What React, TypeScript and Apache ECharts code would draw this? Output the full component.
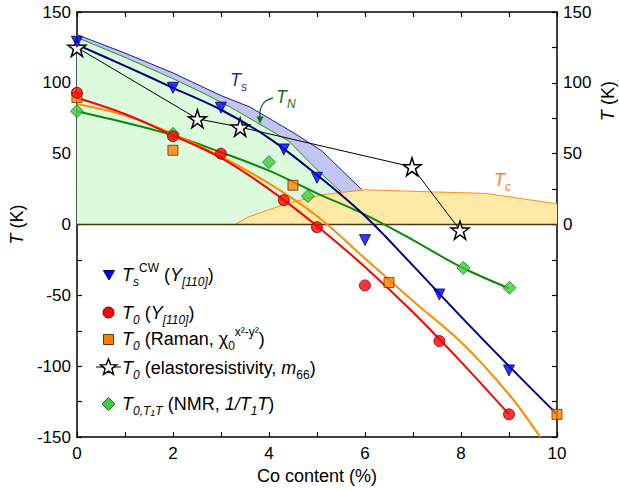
import React, { useEffect, useRef } from 'react';
import * as echarts from 'echarts';

const FONT = '"Liberation Sans", Arial, Helvetica, sans-serif';

// ---- Data ----
// T_s^CW (Y[110]) triangles
const tsCwX = [0, 2, 3, 4.31, 5, 6, 7.55, 9];
const tsCwY = [129, 96.5, 82.5, 53, 33, -11, -49.4, -103];
// navy fit curve through T_s^CW
const tsFitX = [0, 1, 2, 3, 4, 5, 6, 7, 8, 9, 10];
const tsFitY = [127, 112, 96.5, 81, 61, 35, 6, -29, -65, -100, -134];

// T0 (Y[110]) circles
const t0YX = [0, 2, 3, 4.31, 5, 6, 7.55, 9];
const t0YY = [93, 62.3, 50, 17.2, -1.9, -43, -82.3, -134];
const t0YFitX = [0, 1, 2, 3, 4, 5, 6, 7, 8, 9];
const t0YFitY = [89.5, 78, 63, 47, 25, -1, -30, -62, -97, -134];

// T0 (Raman) squares
const ramanX = [0, 2, 4.5, 6.5, 10];
const ramanY = [89.6, 52.4, 27.7, -41, -134];
const ramanFitX = [0, 1, 2, 3, 4, 5, 6, 7, 8, 9, 9.65];
const ramanFitY = [85, 77, 64, 48, 29, 6, -24, -54, -83, -120, -150];

// T0 (elastoresistivity) stars
const elastoX = [0, 2.51, 3.4, 6.98, 7.98];
const elastoY = [125, 74.6, 68.7, 40.7, -4];

// T0,T1T (NMR) diamonds
const nmrX = [0, 2, 4, 4.81, 8.05, 9.01];
const nmrY = [80, 64, 44, 20, -30.6, -44.7];
const nmrFitX = [0, 1, 2, 3, 4, 5, 6, 7, 8, 9];
const nmrFitY = [80, 72, 63, 51, 38, 22, 7, -11, -30, -45];

// Phase boundaries
const tsBandX = [0, 1, 2, 3, 3.6, 4.5, 5.1, 5.93];
const tsBandY = [134, 121, 107, 91, 83, 65, 52, 24.7];
const tnX = [0, 1, 2, 2.62, 3.24, 4.41, 4.96, 5.52];
const tnY = [132, 118, 103, 93, 82, 59, 40, 22.4];
const tcX = [3.3, 3.55, 4.3, 5.1, 6.0, 7.4, 8.5, 10];
const tcY = [0, 5, 14, 21, 24.5, 23, 22, 14.6];
const baseX = [0, 10];
const baseY = [0, 0];

// ---- helpers ----
const pairs = (xs: number[], ys: number[]) => xs.map((x, i) => [x, ys[i]]);

const STAR =
  'path://M50,2 L61.5,37 L98,37 L68.5,58.5 L79.5,94 L50,72 L20.5,94 L31.5,58.5 L2,37 L38.5,37 Z';

const rich: any = {
  n: { fontSize: 18, fontFamily: FONT, lineHeight: 26 },
  i: { fontSize: 18, fontFamily: FONT, fontStyle: 'italic', lineHeight: 26 },
  sb: { fontSize: 12, fontFamily: FONT, verticalAlign: 'bottom', lineHeight: 14 },
  sbi: { fontSize: 12, fontFamily: FONT, fontStyle: 'italic', verticalAlign: 'bottom', lineHeight: 14 },
  ssb: { fontSize: 9, fontFamily: FONT, fontStyle: 'italic', verticalAlign: 'bottom', lineHeight: 10 },
  sp: { fontSize: 12, fontFamily: FONT, verticalAlign: 'top', lineHeight: 14 },
};

const txt = (x: number, y: number, text: string, fill = '#000', extra: any = {}) => ({
  type: 'text',
  x,
  y,
  z: 100,
  ...extra,
  style: { text, rich, fill, align: 'left', verticalAlign: 'middle', fontFamily: FONT, fontSize: 18 },
});

const starPoints = (cx: number, cy: number, R: number, r: number) => {
  const pts: number[][] = [];
  for (let k = 0; k < 10; k++) {
    const a = -Math.PI / 2 + (k * Math.PI) / 5;
    const rr = k % 2 === 0 ? R : r;
    pts.push([cx + rr * Math.cos(a), cy + rr * Math.sin(a)]);
  }
  return pts;
};

export default function App() {
  const ref = useRef<HTMLDivElement>(null);

  useEffect(() => {
    const chart = echarts.init(ref.current!, undefined, { renderer: 'svg' });

    const fitLine = (xs: number[], ys: number[], color: string, z: number) => ({
      type: 'line',
      data: pairs(xs, ys),
      symbol: 'none',
      smooth: 0.35,
      lineStyle: { color, width: 2 },
      z,
      silent: true,
    });

    const area = (xs: number[], ys: number[], line: string, fill: string, z: number) => ({
      type: 'line',
      data: pairs(xs, ys),
      symbol: 'none',
      lineStyle: { color: line, width: 1 },
      areaStyle: { color: fill, opacity: 1 },
      z,
      silent: true,
    });

    const axisCommon = {
      type: 'value',
      axisLine: { show: true, onZero: false, lineStyle: { color: '#000', width: 1.5 } },
      splitLine: { show: false },
    };

    const option: any = {
      animation: false,
      backgroundColor: '#fff',
      grid: { left: 73, right: 62, top: 12, bottom: 53 },
      xAxis: [
        {
          ...axisCommon,
          position: 'bottom',
          min: 0,
          max: 10,
          interval: 2,
          axisTick: { show: true, inside: true, length: 5, lineStyle: { color: '#000', width: 1.2 } },
          minorTick: { show: true, splitNumber: 2, length: 5, lineStyle: { color: '#000', width: 1.2 } },
          axisLabel: { color: '#000', fontSize: 17, fontFamily: FONT, margin: 8 },
          name: 'Co content (%)',
          nameLocation: 'middle',
          nameGap: 25,
          nameTextStyle: { color: '#000', fontSize: 18, fontFamily: FONT },
        },
        {
          ...axisCommon,
          position: 'top',
          min: 0,
          max: 10,
          interval: 1,
          axisTick: { show: true, inside: true, length: 5, lineStyle: { color: '#000', width: 1.2 } },
          axisLabel: { show: false },
        },
      ],
      yAxis: [
        {
          ...axisCommon,
          position: 'left',
          min: -150,
          max: 150,
          interval: 50,
          axisTick: { show: true, inside: true, length: 5, lineStyle: { color: '#000', width: 1.2 } },
          minorTick: { show: true, splitNumber: 2, length: 5, lineStyle: { color: '#000', width: 1.2 } },
          axisLabel: { color: '#000', fontSize: 17, fontFamily: FONT, margin: 6 },
          name: '{i|T} (K)',
          nameLocation: 'middle',
          nameGap: 35,
          nameTextStyle: {
            color: '#000',
            fontSize: 18,
            fontFamily: FONT,
            rich: { i: { fontSize: 18, fontFamily: FONT, fontStyle: 'italic', color: '#000' } },
          },
        },
        {
          ...axisCommon,
          position: 'right',
          min: -150,
          max: 150,
          interval: 50,
          axisTick: { show: true, inside: true, length: 5, lineStyle: { color: '#000', width: 1.2 } },
          minorTick: { show: true, splitNumber: 2, length: 5, lineStyle: { color: '#000', width: 1.2 } },
          axisLabel: {
            color: '#000',
            fontSize: 17,
            fontFamily: FONT,
            margin: 6,
            formatter: (v: number) => (v >= 0 ? String(v) : ''),
          },
        },
      ],
      series: [
        area(tsBandX, tsBandY, '#1c1c8c', '#c4c4f2', 1),
        area(tnX, tnY, '#2e8b2e', '#dcfadc', 2),
        area(tcX, tcY, '#ff8c1a', '#ffe9a6', 3),
        {
          type: 'line',
          data: pairs(baseX, baseY),
          symbol: 'none',
          lineStyle: { color: '#4a3510', width: 1.5 },
          z: 4,
          silent: true,
        },
        fitLine(nmrFitX, nmrFitY, '#0a8a0a', 5),
        fitLine(ramanFitX, ramanFitY, '#ff8c00', 5),
        fitLine(t0YFitX, t0YFitY, '#ff0000', 5),
        fitLine(tsFitX, tsFitY, '#00007f', 5),
        {
          type: 'line',
          name: 'elasto',
          data: pairs(elastoX, elastoY),
          symbol: STAR,
          symbolSize: 18,
          showSymbol: true,
          lineStyle: { color: '#000', width: 1 },
          itemStyle: { color: '#fff', borderColor: '#000', borderWidth: 1.5 },
          z: 8,
          silent: true,
        },
        {
          type: 'scatter',
          data: pairs(nmrX, nmrY),
          symbol: 'diamond',
          symbolSize: 13,
          itemStyle: { color: '#3ccc3c', borderColor: '#1d7a1d', borderWidth: 1 },
          z: 9,
          silent: true,
        },
        {
          type: 'scatter',
          data: pairs(ramanX, ramanY),
          symbol: 'rect',
          symbolSize: 10,
          itemStyle: { color: '#ff8000', borderColor: '#6a3300', borderWidth: 1 },
          z: 9,
          silent: true,
        },
        {
          type: 'scatter',
          data: pairs(t0YX, t0YY),
          symbol: 'circle',
          symbolSize: 11,
          itemStyle: { color: '#ff0000', borderColor: '#7a0000', borderWidth: 1 },
          z: 9,
          silent: true,
        },
        {
          type: 'scatter',
          data: pairs(tsCwX, tsCwY),
          symbol: 'triangle',
          symbolRotate: 180,
          symbolSize: 11,
          itemStyle: { color: '#0000ff', borderColor: '#00006a', borderWidth: 1 },
          z: 9,
          silent: true,
        },
      ],
      graphic: [
        // annotations
        txt(230, 80, '{i|T}{sbi|s}', '#2b2ba8'),
        txt(276, 97, '{i|T}{sbi|N}', '#1a6e1a'),
        txt(494, 180, '{i|T}{sbi|c}', '#ff7f1a'),
        {
          type: 'bezierCurve',
          z: 100,
          shape: { x1: 273, y1: 98, cpx1: 263, cpy1: 100, cpx2: 259, cpy2: 108, x2: 260, y2: 118 },
          style: { stroke: '#1a6e1a', lineWidth: 1.4, fill: 'none' },
        },
        {
          type: 'polygon',
          z: 100,
          shape: { points: [[256.5, 116.5], [263.5, 116.5], [260, 124]] },
          style: { fill: '#1a6e1a' },
        },
        // right axis name
        {
          type: 'text',
          x: 608,
          y: 101,
          rotation: Math.PI / 2,
          z: 100,
          style: {
            text: '{i|T} (K)',
            rich,
            fill: '#000',
            align: 'center',
            verticalAlign: 'middle',
            fontFamily: FONT,
            fontSize: 18,
          },
        },
        // legend
        {
          type: 'polygon',
          z: 100,
          shape: { points: [[103.5, 270.5], [114.5, 270.5], [109, 280]] },
          style: { fill: '#0000ff', stroke: '#00006a', lineWidth: 1 },
        },
        txt(122, 274.5, '{i|T}{sbi|s}{sp|CW}{n| (}{i|Y}{sbi|[110]}{n|)}'),
        {
          type: 'circle',
          z: 100,
          shape: { cx: 108.5, cy: 312.5, r: 5.5 },
          style: { fill: '#ff0000', stroke: '#7a0000', lineWidth: 1 },
        },
        txt(122, 312.5, '{i|T}{sbi|0}{n| (}{i|Y}{sbi|[110]}{n|)}'),
        {
          type: 'rect',
          z: 100,
          shape: { x: 103.5, y: 334.5, width: 10, height: 10 },
          style: { fill: '#ff8000', stroke: '#6a3300', lineWidth: 1 },
        },
        txt(122, 339, '{i|T}{sbi|0}{n| (Raman, χ}{sb|0}{sp|x²-y²}{n|)}'),
        {
          type: 'line',
          z: 100,
          shape: { x1: 96, y1: 367, x2: 121, y2: 367 },
          style: { stroke: '#000', lineWidth: 1 },
        },
        {
          type: 'polygon',
          z: 101,
          shape: { points: starPoints(108.5, 367.5, 8.5, 3.6) },
          style: { fill: '#fff', stroke: '#000', lineWidth: 1.4 },
        },
        txt(122, 367.5, '{i|T}{sbi|0}{n| (elastoresistivity, }{i|m}{sb|66}{n|)}'),
        {
          type: 'polygon',
          z: 100,
          shape: { points: [[108.5, 397.5], [115, 404], [108.5, 410.5], [102, 404]] },
          style: { fill: '#3ccc3c', stroke: '#1d7a1d', lineWidth: 1 },
        },
        txt(122, 404, '{i|T}{sbi|0,T}{ssb|1}{sbi|T}{n| (NMR, }{i|1/T}{sbi|1}{i|T}{n|)}'),
      ],
    };

    chart.setOption(option);
    return () => chart.dispose();
  }, []);

  return (
    <div
      ref={ref}
      style={{ position: 'absolute', left: 0, top: 0, width: 619, height: 490, background: '#fff' }}
    />
  );
}
